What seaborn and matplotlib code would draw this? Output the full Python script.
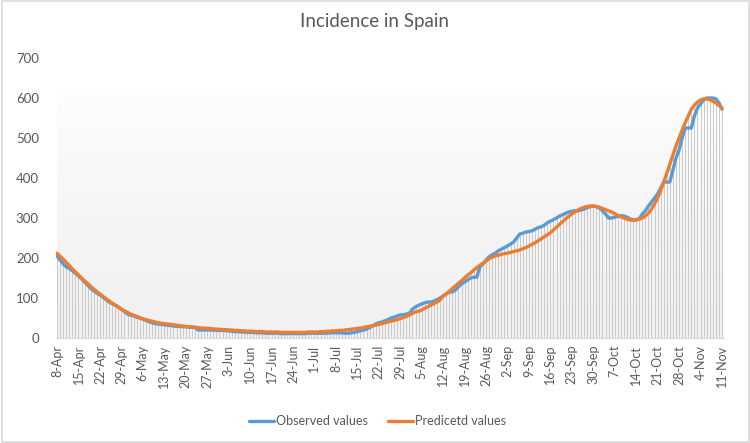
import numpy as np
import pandas as pd
import matplotlib
matplotlib.use("Agg")
import matplotlib.pyplot as plt
import seaborn as sns
from datetime import date, timedelta
from matplotlib.colors import LinearSegmentedColormap
from matplotlib.lines import Line2D
from matplotlib.patches import Rectangle

# ---------------- data ----------------
start_date = date(2020, 4, 8)
n_days = 218

observed = [
    205, 195, 185, 178, 174, 168, 162,
    155, 148, 140, 132, 124, 118, 112,
    108, 102, 96, 90, 86, 82, 78,
    72, 66, 60, 57, 55, 52, 50,
    47, 44, 41, 38, 36, 35, 34,
    33, 32, 31, 30, 29, 29, 28,
    28, 27, 27, 26, 20, 20, 20,
    20, 20, 20, 19, 19, 19, 18,
    18, 17, 16, 16, 15, 15, 14,
    14, 14, 13, 13, 13, 12, 12,
    12, 12, 12, 11, 11, 11, 11,
    11, 11, 11, 11, 11, 12, 12,
    12, 12, 12, 12, 12, 13, 13,
    13, 13, 13, 12, 12, 13, 14,
    16, 18, 20, 22, 26, 30, 35,
    38, 40, 43, 46, 50, 52, 55,
    58, 58, 60, 62, 72, 78, 82,
    85, 88, 90, 90, 92, 96, 100,
    105, 110, 115, 115, 120, 128, 135,
    140, 145, 150, 152, 152, 178, 185,
    195, 203, 208, 212, 218, 222, 226,
    230, 235, 240, 250, 260, 262, 265,
    266, 268, 272, 276, 278, 282, 288,
    292, 296, 300, 305, 308, 312, 315,
    317, 318, 318, 320, 322, 326, 328,
    330, 328, 325, 318, 310, 300, 300,
    302, 304, 306, 305, 302, 298, 295,
    296, 298, 310, 318, 330, 340, 350,
    360, 375, 390, 390, 390, 420, 450,
    470, 500, 525, 525, 525, 555, 575,
    585, 595, 600, 600, 600, 598, 588,
    572,
]

predicted = [
    212, 205, 197, 189, 181, 173, 165,
    158, 150, 143, 136, 129, 122, 116,
    110, 104, 98, 93, 87, 82, 77,
    72, 68, 64, 60, 57, 54, 51,
    48, 46, 44, 42, 40, 38, 37,
    36, 35, 34, 33, 32, 31, 30,
    29, 28, 28, 27, 26, 25, 25,
    24, 24, 23, 22, 22, 21, 21,
    20, 20, 19, 19, 18, 18, 17,
    17, 17, 16, 16, 16, 15, 15,
    15, 15, 15, 14, 14, 14, 14,
    14, 14, 14, 14, 14, 15, 15,
    15, 15, 16, 16, 17, 17, 18,
    18, 19, 19, 20, 21, 22, 23,
    24, 25, 26, 28, 29, 31, 32,
    34, 36, 38, 40, 42, 44, 46,
    48, 51, 54, 57, 62, 65, 67,
    70, 74, 78, 82, 86, 90, 95,
    105, 110, 117, 124, 130, 137, 143,
    150, 157, 163, 170, 176, 182, 187,
    192, 198, 202, 205, 207, 209, 211,
    212, 214, 216, 218, 220, 223, 226,
    230, 234, 238, 243, 248, 253, 258,
    263, 270, 277, 284, 291, 298, 304,
    310, 315, 320, 324, 327, 329, 330,
    330, 329, 327, 324, 321, 318, 315,
    311, 307, 303, 300, 297, 295, 294,
    295, 297, 300, 305, 312, 322, 335,
    350, 368, 390, 412, 435, 458, 480,
    500, 520, 538, 555, 572, 582, 590,
    595, 598, 598, 596, 592, 588, 582,
    575,
]

y_ticks = [0, 100, 200, 300, 400, 500, 600, 700]
title = "Incidence in Spain"
series_names = ["Observed values", "Predicetd values"]

# ---------------- build ----------------
dates = [start_date + timedelta(days=i) for i in range(n_days)]
day_idx = np.arange(n_days)
date_labels = [f"{d.day}-{d.strftime('%b')}" for d in dates]

df = pd.DataFrame({
    "day": np.concatenate([day_idx, day_idx]),
    "value": observed + predicted,
    "series": [series_names[0]] * n_days + [series_names[1]] * n_days,
})

sns.set_theme(style="white")
plt.rcParams["font.family"] = ["Lato", "DejaVu Sans"]

fig = plt.figure(figsize=(7.5, 4.43), dpi=100)
x0, x1 = -0.5, n_days - 0.5
ax = fig.add_axes([55.5 / 750, 1 - 338 / 443, (723.5 - 55.5) / 750, (338 - 58) / 443])

# gradient background panel
grad = np.linspace(0, 1, 256).reshape(-1, 1)
cmap = LinearSegmentedColormap.from_list("g", ["#f1f1f1", "#f5f5f5", "#fefefe"])
ax.imshow(grad, aspect="auto", cmap=cmap, origin="lower",
          extent=[0, n_days - 1, 0, 625], zorder=0)

# drop lines
top = np.maximum(np.array(observed), np.array(predicted))
ax.vlines(day_idx, 0, top, colors="#c9c9c9", linewidth=0.7, zorder=1)

sns.lineplot(data=df, x="day", y="value", hue="series",
             palette=["#5B9BD5", "#ED7D31"], linewidth=2.4, ax=ax,
             legend=False, zorder=3)

ax.set_xlim(x0, x1)
ax.set_ylim(0, 700)
ax.set_yticks(y_ticks)
ax.set_yticklabels([str(v) for v in y_ticks], color="#595959", fontsize=9.5)
tick_pos = day_idx[::7]
ax.set_xticks(tick_pos)
ax.set_xticklabels([date_labels[i] for i in tick_pos], rotation=90,
                   color="#595959", fontsize=9)
ax.tick_params(axis="both", length=0, pad=5)
ax.tick_params(axis="y", pad=12)
ax.set_xlabel("")
ax.set_ylabel("")
for s in ["top", "right", "left"]:
    ax.spines[s].set_visible(False)
ax.spines["bottom"].set_color("#d9d9d9")
ax.spines["bottom"].set_linewidth(0.8)
ax.patch.set_alpha(0)

fig.text(0.5, 1 - 22 / 443, title, ha="center", va="center",
         fontsize=13.5, color="#595959")

handles = [Line2D([0], [0], color="#5B9BD5", lw=2.4),
           Line2D([0], [0], color="#ED7D31", lw=2.4)]
fig.legend(handles, series_names, loc="center", bbox_to_anchor=(0.503, 1 - 421 / 443),
           ncol=2, frameon=False, fontsize=9, handlelength=2.0,
           handletextpad=0.15, columnspacing=1.6, labelcolor="#595959")

fig.patches.append(Rectangle((0.002, 0.003), 0.996, 0.994, transform=fig.transFigure,
                             fill=False, edgecolor="#d9d9d9", linewidth=1.2))

fig.savefig("out.png", dpi=100)
